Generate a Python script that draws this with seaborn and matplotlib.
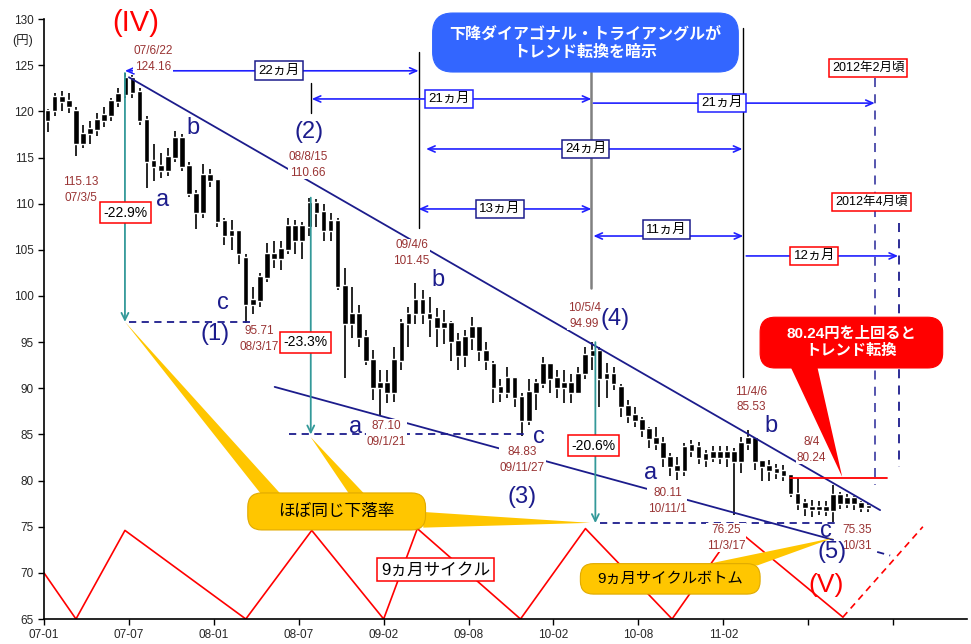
import numpy as np
import matplotlib.pyplot as plt
import seaborn as sns
from matplotlib.patches import FancyBboxPatch

# USD/JPY, half-month bars from 2007-01 (open, high, low, close)
opens = [119, 120, 121.5, 121, 120, 116.5, 117.5, 118, 119, 119.5, 121, 121.8, 123.5, 122, 119, 114.5,
         114, 113.5, 115, 117, 114, 111, 109, 113, 112.5, 108, 106.5, 107, 104, 99, 99.5, 102,
         104.5, 104, 105, 107.5, 106, 107.5, 110, 109, 107, 108, 101, 97, 98, 95.5, 93, 90,
         90.5, 89.5, 93, 97, 98, 99.5, 98, 97.5, 96.5, 97, 95, 93.5, 95.5, 96.5, 94, 92.5,
         90, 89.5, 91, 89, 86.5, 89.5, 90.5, 92.5, 91, 90, 90.5, 89.5, 91.5, 93.5, 94, 91,
         91.5, 90, 88, 87, 86.5, 85.5, 84.5, 84, 82.5, 81.5, 81, 83.8, 83.5, 82.8, 82.5, 83,
         82.5, 83, 82, 84, 84.5, 82, 81.5, 81.2, 81, 80.5, 78.5, 77.5, 77, 76.8, 77, 76.7,
         78.3, 77.5, 78, 77.5, 77]
highs = [120.3, 122, 122.2, 122, 120.5, 118.5, 119, 119.8, 120.5, 121.5, 122.5, 124.16, 124, 122.5, 119.5, 116.5,
         115.5, 116, 117.9, 117.5, 114.5, 111.5, 114.3, 113.8, 112.5, 108.5, 108.2, 107.2, 104.5, 101, 102.5, 105.7,
         106, 106, 108.5, 108.2, 108, 110.66, 110.5, 110, 109, 108.5, 103, 101, 99, 96.3, 94.2, 92,
         92, 94.5, 97.5, 98.8, 101.45, 100.6, 99.9, 98.7, 98.5, 97.3, 96, 96.3, 97.7, 96.5, 95, 93,
         91, 92.3, 91.2, 89.5, 91, 91, 93.4, 92.5, 92, 92, 91.5, 92.3, 94.5, 94.99, 94.5, 92.7,
         92.3, 90.5, 88.7, 88, 86.9, 85.8, 85.8, 84.7, 83, 82.6, 84.1, 84.4, 84.2, 83.3, 83.7, 83.7,
         83.7, 83.5, 84.7, 85.53, 84.5, 82.2, 82.2, 81.8, 81.7, 80.5, 80.24, 78, 77.9, 77.8, 77.8, 79.5,
         78.8, 78.5, 78.3, 77.8, 77.6]
lows = [117.8, 119.5, 120, 119.8, 115.13, 116, 116.5, 117.3, 118.3, 119, 120.5, 121.5, 121.5, 118.5, 111.7, 112.5,
        112.8, 113, 114.5, 113.5, 110.7, 107.3, 108.5, 111.8, 107.5, 105.5, 105, 103.5, 97.1, 98, 98.8, 101.5,
        103, 102.8, 104.5, 104.5, 104, 106.5, 107.5, 106, 106, 100.6, 91.1, 95.5, 94.5, 92.5, 88.7, 87.1,
        88.4, 88.5, 92, 94.5, 97, 97, 95.6, 94.5, 94.8, 93, 92, 92.3, 94.2, 93, 92, 88.4,
        88.5, 89, 88, 84.83, 86, 87.7, 90, 89.5, 89, 88.4, 88.4, 89.5, 91, 92, 88, 89,
        89.8, 86.9, 86.2, 85.8, 84.7, 83.5, 83.3, 81.5, 80.5, 80.11, 80.5, 82.6, 81.8, 81.5, 82, 81.8,
        81.5, 76.25, 80.8, 83.3, 81.1, 80, 80, 80.2, 80, 78.2, 76.8, 76.2, 76.1, 76.3, 76.2, 75.5,
        76.9, 77, 76.8, 76.6, 76.6]
closes = [120, 121.5, 121, 120.5, 116.5, 117.5, 118, 119, 119.5, 121, 121.8, 123.5, 122, 119, 114.5, 114,
          113.5, 115, 117, 114, 111, 109, 113, 112.5, 108, 106.5, 107, 104.5, 99, 99.5, 102, 104.5,
          104, 105, 107.5, 106, 107.5, 110, 109, 107, 108, 101, 97, 98, 95.5, 93, 90, 90.5,
          89.5, 93, 97, 98, 99.5, 98, 97.5, 96.5, 97, 95, 93.5, 95.5, 96.5, 94, 93, 90,
          89.5, 91, 89, 86.5, 89.5, 90.5, 92.5, 91, 90, 90.5, 89.5, 91.5, 93.5, 94, 91, 91.5,
          90.5, 88, 87, 86.5, 85.5, 84.5, 84, 82.5, 81.5, 81, 83.5, 83.2, 82.5, 82.2, 83, 82.5,
          83, 82, 84, 84.5, 82, 81.5, 81, 80.8, 80.5, 78.5, 77.5, 77, 76.8, 77, 76.7, 78.3,
          77.5, 78, 77.5, 77, 77.2]

tick_pos = [0, 6, 12, 18, 24, 30, 36, 42, 48, 54, 60]
tick_labels = ['07-01', '07-07', '08-01', '08-07', '09-02', '09-08', '10-02', '10-08', '11-02', '', '']

# 9-month cycle zigzag
cycle_x = [0, 2.26, 5.72, 14.26, 18.92, 24.0, 26.38, 33.67, 38.26, 44.38, 48.87, 56.45]
cycle_y = [70.0, 65.0, 74.6, 65.0, 74.6, 65.0, 74.8, 65.0, 74.8, 65.0, 74.8, 65.2]

price_labels = [
    ('07/6/22\n124.16', 7.69, 125.7), ('115.13\n07/3/5', 2.61, 111.5),
    ('08/8/15\n110.66', 18.64, 114.2), ('95.71\n08/3/17', 15.18, 95.35),
    ('09/4/6\n101.45', 25.98, 104.66), ('87.10\n09/1/21', 24.21, 85.06),
    ('84.83\n09/11/27', 33.81, 82.24), ('10/5/4\n94.99', 38.19, 97.85),
    ('80.11\n10/11/1', 44.05, 77.81), ('11/4/6\n85.53', 49.95, 88.8),
    ('76.25\n11/3/17', 48.21, 73.8), ('8/4\n80.24', 54.21, 83.33),
    ('75.35\n10/31', 57.46, 73.8),
]
wave_labels = [
    ('b', 10.52, 118.2), ('a', 8.4, 110.4), ('c', 12.64, 99.25), ('(1)', 12.07, 95.9),
    ('(2)', 18.71, 117.8), ('a', 22.02, 85.8), ('b', 27.81, 101.7), ('c', 34.94, 84.7),
    ('(3)', 33.81, 78.24), ('(4)', 40.38, 97.52), ('a', 42.85, 80.84), ('b', 51.35, 85.9),
    ('c', 55.27, 74.56), ('(5)', 55.69, 72.3),
]

sns.set_style('ticks')
plt.rcParams['font.family'] = ['Liberation Sans', 'Noto Sans CJK JP', 'DejaVu Sans']

fig = plt.figure(figsize=(9.71, 6.44), dpi=100)
ax = fig.add_axes([0.0453, 0.0388, 0.9506, 0.9315])

navy = '#1c1c8c'
blue = '#2020ff'
teal = '#339999'
dred = '#993333'

# candles
x = 0.25 + 0.5 * np.arange(len(opens))
o = np.array(opens)
c = np.array(closes)
ax.vlines(x, lows, highs, color='black', lw=1.2, zorder=2)
ax.bar(x, np.abs(c - o) + 0.2, bottom=np.minimum(o, c), width=0.4, color='black', zorder=2)

# cycle line
sns.lineplot(x=cycle_x, y=cycle_y, sort=False, color='red', lw=1.2, ax=ax, zorder=2)
ax.plot([56.45, 62.1], [65.2, 75.0], color='red', lw=1.2, ls=(0, (4, 3)), zorder=2)

# trend lines
ax.plot([6.0, 59.08], [123.7, 76.8], color=navy, lw=1.3, zorder=3)
ax.plot([16.3, 55.76], [90.15, 73.58], color=navy, lw=1.3, zorder=3)
ax.plot([58.87, 59.79], [72.27, 71.88], color=navy, lw=1.3, ls=(0, (4, 3)), zorder=3)
ax.plot([52.73, 59.58], [80.3, 80.3], color='red', lw=1.3, zorder=3)

# dashed lows
for y, x0, x1 in [(97.2, 6.0, 14.6), (85.0, 17.3, 34.2), (75.4, 39.3, 55.9)]:
    ax.plot([x0, x1], [y, y], color=navy, lw=1.3, ls=(0, (4, 3)), zorder=3)

# teal drop arrows
for xx, y0, y1 in [(5.72, 124.16, 97.2), (18.85, 110.66, 85.0), (38.96, 95.0, 75.4)]:
    ax.annotate('', xy=(xx, y1), xytext=(xx, y0),
                arrowprops=dict(arrowstyle='->,head_length=0.5,head_width=0.25', color=teal, lw=1.3,
                                shrinkA=0, shrinkB=0), zorder=3)

# vertical time markers
ax.plot([18.85, 18.85], [123.1, 119.8], color='black', lw=1.0, zorder=3)
ax.plot([26.47, 26.47], [126.4, 107.4], color='black', lw=1.0, zorder=3)
ax.plot([38.68, 38.68], [124.3, 100.9], color='#808080', lw=1.8, zorder=3)
ax.plot([49.41, 49.41], [129.0, 91.2], color='black', lw=1.0, zorder=3)
ax.plot([58.73, 58.73], [123.6, 79.5], color='#4848a8', lw=1.3, ls=(0, (5, 4)), zorder=3)
ax.plot([60.42, 60.42], [107.9, 81.5], color=navy, lw=1.3, ls=(0, (5, 4)), zorder=3)

# month span arrows
spans = [(5.72, 26.47, 124.4, '<->'), (18.92, 38.68, 121.35, '<->'), (38.82, 58.7, 120.9, '->'),
         (27.0, 49.35, 115.93, '<->'), (26.47, 38.68, 109.43, '<->'), (38.82, 49.41, 106.5, '<->'),
         (49.62, 60.35, 104.34, '->')]
for x0, x1, y, st in spans:
    ax.annotate('', xy=(x1, y), xytext=(x0, y),
                arrowprops=dict(arrowstyle=st + ',head_length=0.5,head_width=0.22', color=blue, lw=1.2,
                                shrinkA=0, shrinkB=0), zorder=3)

def boxlabel(t, xx, yy, ec, fs=9.5):
    ax.text(xx, yy, t, ha='center', va='center', fontsize=fs, color='black', zorder=6,
            bbox=dict(boxstyle='square,pad=0.25', fc='white', ec=ec, lw=1.1))

boxlabel('22ヵ月', 16.59, 124.4, navy)
boxlabel('21ヵ月', 28.59, 121.35, blue)
boxlabel('21ヵ月', 47.93, 120.9, blue)
boxlabel('24ヵ月', 38.26, 115.93, navy)
boxlabel('13ヵ月', 32.19, 109.43, navy)
boxlabel('11ヵ月', 43.98, 107.2, navy)
boxlabel('12ヵ月', 54.42, 104.34, 'red')
boxlabel('2012年2月頃', 58.23, 124.7, 'red', 9)
boxlabel('2012年4月頃', 58.45, 110.2, 'red', 9)
boxlabel('-22.9%', 5.79, 109.0, 'red', 10)
boxlabel('-23.3%', 18.49, 95.0, 'red', 10)
boxlabel('-20.6%', 38.82, 83.75, 'red', 10)
boxlabel('9ヵ月サイクル', 27.67, 70.33, 'red', 12)

for t, xx, yy in price_labels:
    ax.text(xx, yy, t, ha='center', va='center', fontsize=8.5, color=dred, linespacing=1.4, zorder=5,
            bbox=dict(boxstyle='square,pad=0.05', fc='white', ec='none'))
for t, xx, yy in wave_labels:
    ax.text(xx, yy, t, ha='center', va='center', fontsize=17, color=navy, zorder=5)
ax.text(6.49, 129.6, '(IV)', ha='center', va='center', fontsize=21, color='red', zorder=5, clip_on=False)
ax.text(55.27, 68.7, '(V)', ha='center', va='center', fontsize=19, color='red', zorder=5)

# callouts
ASPECT = 14.167 / 9.233

def callout(x0, x1, y0, y1, r, fc, ec, wedges, text, tc, fs, bold=False):
    for w in wedges:
        ax.fill([p[0] for p in w], [p[1] for p in w], color=fc, zorder=6, clip_on=False, lw=0)
    ax.add_patch(FancyBboxPatch((x0, y0), x1 - x0, y1 - y0,
                                boxstyle='round,pad=0,rounding_size=%f' % (r / 14.167),
                                mutation_aspect=ASPECT, fc=fc, ec=ec, lw=0.8, zorder=7, clip_on=False))
    ax.text((x0 + x1) / 2, (y0 + y1) / 2, text, ha='center', va='center', fontsize=fs, color=tc,
            fontweight='bold' if bold else 'normal', linespacing=1.25, zorder=8, clip_on=False)

yellow = '#ffc600'
callout(14.4, 26.96, 74.65, 78.66, 14, yellow, '#e0aa00',
        [[(5.72, 97.2), (15.46, 78.3), (16.87, 78.3)],
         [(18.85, 84.7), (21.67, 78.3), (22.8, 78.3)],
         [(38.6, 75.42), (26.8, 76.6), (26.8, 74.9)]],
        'ほぼ同じ下落率', 'black', 12)
callout(37.9, 50.6, 67.7, 71.0, 13, yellow, '#e0aa00',
        [[(55.8, 73.8), (46.38, 70.8), (50.4, 70.8)]],
        '9ヵ月サイクルボトム', 'black', 11)
callout(27.46, 49.06, 124.27, 130.66, 20, '#3366ff', '#3366ff', [],
        '下降ダイアゴナル・トライアングルが\nトレンド転換を暗示', 'white', 11.5, True)
callout(50.6, 63.5, 92.2, 97.7, 15, 'red', 'red',
        [[(52.73, 92.4), (54.63, 92.4), (56.4, 80.4)]],
        '80.24円を上回ると\nトレンド転換', 'white', 11, True)

ax.set_xlim(0, 65.22)
ax.set_ylim(65, 130)
ax.set_yticks(np.arange(65, 131, 5))
ax.set_xticks(tick_pos)
ax.set_xticklabels(tick_labels)
ax.tick_params(labelsize=8.5, length=4, width=1, color='black', direction='out')
ax.set_xlabel('')
ax.set_ylabel('')
sns.despine(ax=ax)
for s in ['left', 'bottom']:
    ax.spines[s].set_color('black')
    ax.spines[s].set_linewidth(1.2)
fig.text(23 / 971, 1 - 41 / 644, '(円)', ha='center', va='center', fontsize=9)

fig.savefig('out.png', dpi=100)
